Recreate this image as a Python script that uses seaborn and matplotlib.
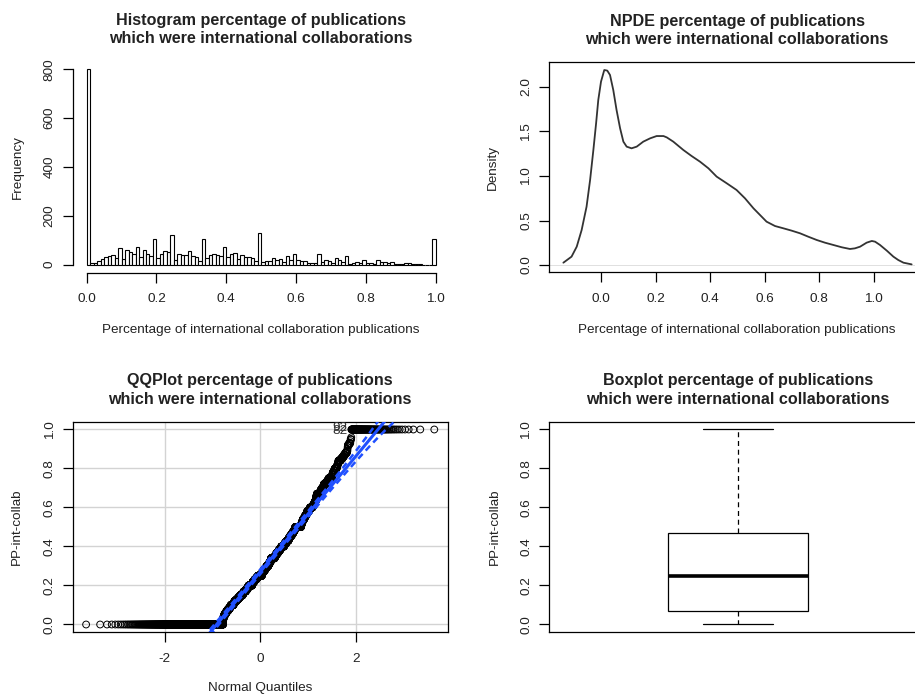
import numpy as np
import pandas as pd
import matplotlib
matplotlib.use("Agg")
import matplotlib.pyplot as plt
import seaborn as sns
from statistics import NormalDist

# ---------------- data ----------------
# histogram: 100 bins of width 0.01 on [0, 1] (R right-closed bins)
hist_counts = [800, 5, 8, 15, 25, 30, 37, 40, 29, 70,
               22, 59, 52, 45, 71, 32, 62, 45, 34, 104,
               26, 45, 55, 52, 120, 18, 44, 40, 40, 55,
               34, 33, 16, 106, 29, 38, 44, 41, 36, 74,
               30, 43, 47, 22, 38, 32, 30, 27, 15, 129,
               11, 15, 15, 26, 19, 25, 12, 34, 19, 44,
               21, 15, 14, 5, 7, 8, 44, 10, 18, 16,
               8, 26, 18, 12, 34, 4, 5, 11, 7, 18,
               5, 5, 4, 18, 12, 10, 8, 11, 3, 1,
               1, 7, 7, 1, 3, 1, 0, 0, 0, 104]
hist_range = (0.0, 1.0)
n_bins = 100

# density curve
dens_x = [-0.138, -0.108, -0.089, -0.071, -0.053, -0.040, -0.028, -0.018, -0.010, 0.000,
          0.012, 0.023, 0.033, 0.045, 0.057, 0.070, 0.082, 0.094, 0.112, 0.131,
          0.155, 0.180, 0.204, 0.229, 0.241, 0.265, 0.302, 0.332, 0.363, 0.394,
          0.424, 0.461, 0.497, 0.528, 0.559, 0.583, 0.607, 0.638, 0.669, 0.699,
          0.730, 0.760, 0.791, 0.821, 0.852, 0.883, 0.913, 0.931, 0.950, 0.974,
          0.993, 1.005, 1.023, 1.048, 1.072, 1.090, 1.109, 1.139]
dens_y = [0.026, 0.094, 0.206, 0.393, 0.655, 0.955, 1.292, 1.592, 1.854, 2.060,
          2.191, 2.184, 2.135, 1.966, 1.742, 1.536, 1.386, 1.330, 1.311, 1.330,
          1.386, 1.423, 1.449, 1.449, 1.434, 1.386, 1.292, 1.225, 1.161, 1.086,
          0.993, 0.918, 0.843, 0.749, 0.637, 0.562, 0.487, 0.438, 0.412, 0.386,
          0.356, 0.318, 0.281, 0.251, 0.225, 0.199, 0.180, 0.187, 0.206, 0.251,
          0.270, 0.262, 0.225, 0.161, 0.094, 0.056, 0.026, 0.007]

# tick labels
hist_xticks = [0.0, 0.2, 0.4, 0.6, 0.8, 1.0]
hist_yticks = [0, 200, 400, 600, 800]
dens_yticks = [0.0, 0.5, 1.0, 1.5, 2.0]
qq_xticks = [-2, 0, 2]
pp_yticks = [0.0, 0.2, 0.4, 0.6, 0.8, 1.0]
qq_labels = ["92", "82"]

title_tail = "which were international collaborations"
titles = ["Histogram percentage of publications",
          "NPDE percentage of publications",
          "QQPlot percentage of publications",
          "Boxplot percentage of publications"]
xlab_pct = "Percentage of international collaboration publications"

# ---------------- derived values ----------------
bin_edges = np.linspace(hist_range[0], hist_range[1], n_bins + 1)
bin_mids = (bin_edges[:-1] + bin_edges[1:]) / 2
bin_values = bin_edges[1:].copy()
bin_values[0] = 0.0
sample = np.repeat(bin_values, hist_counts)
n = len(sample)
nd = NormalDist()
probs = (np.arange(1, n + 1) - 0.5) / n
z = np.array([nd.inv_cdf(p) for p in probs])
hist_df = pd.DataFrame({"x": bin_mids, "w": np.asarray(hist_counts, dtype=float)})

# ---------------- style ----------------
sns.set_theme(style="white")
plt.rcParams["font.family"] = ["Liberation Sans", "DejaVu Sans"]
plt.rcParams["axes.unicode_minus"] = False

TXT = "#222222"
FS = 9.7
TFS = 11.6
BLUE = "#2050ff"

fig = plt.figure(figsize=(9.15, 6.95), dpi=100)
W, H = 915.0, 695.0


def add_ax(l, t, r, b):
    return fig.add_axes([l / W, 1 - b / H, (r - l) / W, (b - t) / H])


ax1 = add_ax(72.7, 61.5, 449.7, 272.5)
ax2 = add_ax(549.3, 62.3, 925.0, 272.3)
ax3 = add_ax(72.7, 421.7, 447.7, 632.3)
ax4 = add_ax(549.3, 421.7, 926.3, 632.3)


def style(ax, title, xlabel, ylabel, ylab_x, xlab_y):
    ax.set_facecolor("white")
    for s in ax.spines.values():
        s.set_color("black")
        s.set_linewidth(0.9)
    ax.tick_params(direction="out", length=7.3, width=0.9, color="black",
                   labelsize=FS, labelcolor=TXT, pad=7.5, left=True, bottom=True)
    ax.tick_params(axis="y", labelrotation=90, pad=5)
    for lab in ax.get_yticklabels():
        lab.set_va("center")
    ax.set_title(title + "\n" + title_tail, fontsize=TFS, fontweight="bold",
                 color=TXT, pad=13, linespacing=1.3)
    ax.set_xlabel(xlabel, fontsize=FS, color=TXT)
    ax.set_ylabel(ylabel, fontsize=FS, color=TXT)
    ax.xaxis.set_label_coords(0.5, xlab_y)
    ax.yaxis.set_label_coords(ylab_x, 0.5)
    ax.xaxis.label.set_va("center")
    ax.yaxis.label.set_va("center")
    ax.yaxis.label.set_ha("center")


# ---- Histogram ----
sns.histplot(data=hist_df, x="x", weights="w", bins=n_bins, binrange=hist_range,
             color="white", edgecolor="black", linewidth=0.8, alpha=1, ax=ax1)
ax1.set_xlim(-0.04, 1.04)
ax1.set_ylim(-32, 832)
ax1.set_xticks(hist_xticks, [f"{v:.1f}" for v in hist_xticks])
ax1.set_yticks(hist_yticks, [str(v) for v in hist_yticks])
ax1.spines["top"].set_visible(False)
ax1.spines["right"].set_visible(False)
ax1.spines["left"].set_bounds(0, 800)
ax1.spines["bottom"].set_bounds(0, 1)
style(ax1, titles[0], xlab_pct, "Frequency", -0.1443, -0.2725)

# ---- Density ----
ax2.axhline(0, color="#c8c8c8", lw=0.4, zorder=1)
sns.lineplot(x=dens_x, y=dens_y, sort=False, estimator=None, color="#333333",
             lw=1.3, ax=ax2)
ax2.set_xlim(-0.1896, 1.188)
ax2.set_ylim(-0.082, 2.2775)
ax2.set_xticks(hist_xticks, [f"{v:.1f}" for v in hist_xticks])
ax2.set_yticks(dens_yticks, [f"{v:.1f}" for v in dens_yticks])
style(ax2, titles[1], xlab_pct, "Density", -0.1507, -0.274)

# ---- QQ plot ----
ax3.grid(True, color="#d3d3d3", lw=1)
ax3.set_axisbelow(True)
sns.scatterplot(x=z, y=sample, marker="o", s=24, facecolor="none",
                edgecolor="black", linewidth=0.7, ax=ax3, zorder=3)
ax3.collections[-1].set_facecolor("none")
q1, q3 = np.quantile(sample, [0.25, 0.75])
z1, z3 = nd.inv_cdf(0.25), nd.inv_cdf(0.75)
slope = (q3 - q1) / (z3 - z1)
inter = q1 - slope * z1
fit = inter + slope * z
phi = np.exp(-z ** 2 / 2) / np.sqrt(2 * np.pi)
se = slope / phi * np.sqrt(probs * (1 - probs) / n)
zz = nd.inv_cdf(0.975)
sns.lineplot(x=z, y=fit, color=BLUE, lw=2.2, ax=ax3, zorder=4)
sns.lineplot(x=z, y=fit + zz * se, color=BLUE, lw=1.8, ax=ax3, zorder=4,
             linestyle=(0, (2.6, 1.8)))
sns.lineplot(x=z, y=fit - zz * se, color=BLUE, lw=1.8, ax=ax3, zorder=4,
             linestyle=(0, (2.6, 1.8)))
first_one = int(np.argmax(sample >= 1.0))
for lab, dy in zip(qq_labels, (0.8, -0.8)):
    ax3.annotate(lab, (z[first_one], sample[first_one]), xytext=(-3, dy),
                 textcoords="offset points", ha="right", va="center",
                 fontsize=FS, color="#333333", zorder=5)
ax3.set_xlim(-3.92, 3.92)
ax3.set_ylim(-0.04, 1.04)
ax3.set_xticks(qq_xticks, [str(v) for v in qq_xticks])
ax3.set_yticks(pp_yticks, [f"{v:.1f}" for v in pp_yticks])
style(ax3, titles[2], "Normal Quantiles", "PP-int-collab", -0.149, -0.266)

# ---- Boxplot ----
sns.boxplot(y=sample, width=0.4, color="white", linecolor="black", linewidth=0.9,
            whis=1.5, fliersize=4,
            medianprops=dict(linewidth=2.6, color="black"),
            whiskerprops=dict(linestyle=(0, (4, 3))),
            ax=ax4)
ax4.set_xlim(-0.54, 0.54)
ax4.set_ylim(-0.04, 1.04)
ax4.set_xticks([])
ax4.set_yticks(pp_yticks, [f"{v:.1f}" for v in pp_yticks])
style(ax4, titles[3], "", "PP-int-collab", -0.144, -0.27)

fig.savefig("out.png", dpi=100, facecolor="white")
